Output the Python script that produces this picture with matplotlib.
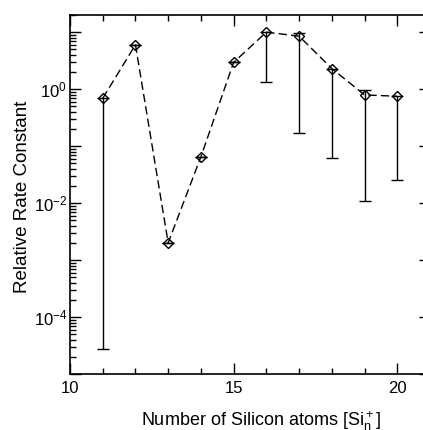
import numpy as np
import matplotlib
matplotlib.use("Agg")
import matplotlib.pyplot as plt
from matplotlib.ticker import LogLocator, MultipleLocator, NullFormatter, FuncFormatter

plt.rcParams['font.family'] = ['Liberation Sans', 'DejaVu Sans']
plt.rcParams['mathtext.fontset'] = 'custom'
plt.rcParams['mathtext.rm'] = 'Liberation Sans'
plt.rcParams['mathtext.it'] = 'Liberation Sans:italic'

n_atoms = [11, 12, 13, 14, 15, 16, 17, 18, 19, 20]
rate = [0.69, 6.0, 0.002, 0.065, 2.95, 10.0, 8.5, 2.3, 0.79, 0.75]
lower = [2.8e-5, 6.0, 0.002, 0.065, 2.95, 1.31, 0.168, 0.0625, 0.011, 0.0257]
upper = [0.69, 6.0, 0.002, 0.065, 2.95, 10.0, 9.8, 2.3, 0.96, 0.75]

fig = plt.figure(figsize=(4.23, 4.30), dpi=100)
ax = fig.add_axes([70/423, 1-374/430, 360/423, 359/430])

rate_a = np.array(rate)
yerr = np.vstack([rate_a - np.array(lower), np.array(upper) - rate_a])
ax.errorbar(n_atoms, rate, yerr=yerr, fmt='none', ecolor='black', elinewidth=1.0,
            capsize=4.3, capthick=1.0, zorder=2)
ax.plot(n_atoms, rate, color='black', lw=1.0, dashes=(6, 3), marker='D', markersize=5,
        markerfacecolor='none', markeredgecolor='black', markeredgewidth=1.0, zorder=3)

ax.set_yscale('log')
ax.set_xlim(10, 21)
ax.set_ylim(1e-5, 20)

ax.xaxis.set_major_locator(MultipleLocator(5))
ax.xaxis.set_minor_locator(MultipleLocator(1))
ax.yaxis.set_major_locator(LogLocator(base=10, numticks=20))
ax.yaxis.set_minor_locator(LogLocator(base=10, subs=np.arange(2, 10), numticks=20))
ax.yaxis.set_minor_formatter(NullFormatter())


def yfmt(v, pos):
    e = int(round(np.log10(v)))
    if e % 2 != 0:
        return ''
    return r'$\mathregular{10^{%s}}$' % str(e).replace('-', '\u2212')


ax.yaxis.set_major_formatter(FuncFormatter(yfmt))

ax.tick_params(which='both', direction='in', top=True, right=True, width=1.0,
               labelsize=12, colors='black')
ax.tick_params(which='major', length=8)
ax.tick_params(which='minor', length=4.5)
ax.tick_params(axis='x', which='major', pad=5)
ax.tick_params(axis='y', which='major', pad=2)

for s in ax.spines.values():
    s.set_linewidth(1.2)

ax.set_xlabel(r'Number of Silicon atoms [Si$\mathregular{_n^+}$]', fontsize=13)
ax.set_ylabel('Relative Rate Constant', fontsize=13.5)
ax.xaxis.set_label_coords((261 - 70) / 360, -(409 - 374) / 359)
ax.yaxis.set_label_coords((31 - 70) / 360, (374 - 197) / 359)

fig.savefig('out.png', dpi=100)
